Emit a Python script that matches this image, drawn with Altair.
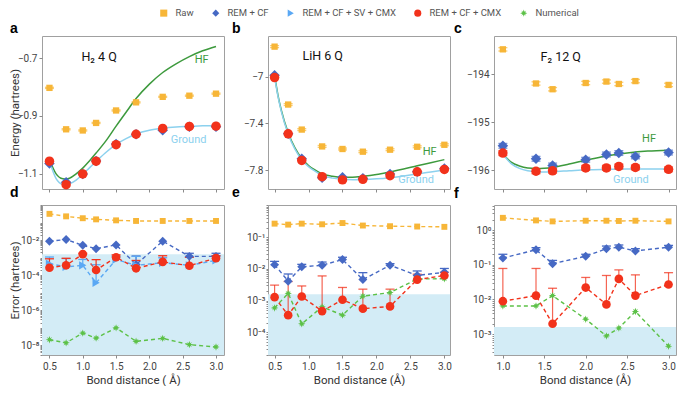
import altair as alt
import pandas as pd

# ---------------- data ----------------
SERIES = ["Raw", "REM + CF", "REM + CF + SV + CMX", "REM + CF + CMX", "Numerical"]
COLORS = ["#F7B638", "#4669C4", "#5AA8F4", "#F2321B", "#5CC147"]
STAR = ("M0,-1L0.22,-0.38L0.71,-0.71L0.38,-0.22L1,0L0.38,0.22L0.71,0.71L0.22,0.38"
        "L0,1L-0.22,0.38L-0.71,0.71L-0.38,0.22L-1,0L-0.38,-0.22L-0.71,-0.71L-0.22,-0.38Z")
SHAPES = ["square", "diamond", "triangle-right", "circle", STAR]
HF_COLOR = "#3D9A3D"
GROUND_COLOR = "#8CD1EE"
SHADE = "#D3ECF6"
CHEM_ACC = 0.0016
FONT = "Roboto"

# H2
H2_X = [0.5, 0.75, 1.0, 1.2, 1.5, 1.8, 2.2, 2.6, 3.0]
H2_E_RAW = [-0.803, -0.946, -0.950, -0.924, -0.881, -0.853, -0.834, -0.830, -0.823]
H2_E_CF = [-1.064, -1.129, -1.100, -1.055, -0.997, -0.963, -0.949, -0.937, -0.937]
H2_E_CMX = [-1.056, -1.137, -1.100, -1.056, -0.999, -0.963, -0.943, -0.936, -0.935]
H2_CX = [0.5, 0.6, 0.7, 0.75, 0.8, 0.9, 1.0, 1.1, 1.2, 1.35, 1.5, 1.65, 1.8, 2.0, 2.2, 2.4, 2.6, 2.8, 3.0]
H2_GROUND = [-1.055, -1.116, -1.136, -1.137, -1.134, -1.121, -1.101, -1.079, -1.057, -1.025,
             -0.998, -0.978, -0.962, -0.949, -0.942, -0.938, -0.936, -0.934, -0.934]
H2_HF = [-1.050, -1.100, -1.117, -1.118, -1.115, -1.100, -1.080, -1.055, -1.028, -0.985,
         -0.935, -0.887, -0.840, -0.790, -0.750, -0.720, -0.695, -0.675, -0.660]
H2_ERR_RAW = [0.32, 0.23, 0.18, 0.155, 0.136, 0.126, 0.126, 0.126, 0.126]
H2_ERR_CF = [8.8e-3, 1.1e-2, 5.1e-3, 3.3e-3, 5.4e-3, 4.1e-4, 8.8e-3, 1.2e-3, 1.2e-3]
H2_ERR_CF_HI = [None, None, None, None, None, 1.25e-3, None, 1.8e-3, 1.8e-3]
H2_ERR_SV = [4.6e-4, 3.0e-4, 3.7e-4, 3.7e-5, 7.9e-4, 3.7e-4, 5.2e-4, 3.7e-4, 7.1e-4]
H2_ERR_SV_HI = [1.1e-3, 9e-4, 8e-4, 4e-4, 1.2e-3, 1.2e-3, 1.0e-3, 1.1e-3, 1.3e-3]
H2_ERR_CMX = [2.7e-4, 3.7e-4, 1.6e-3, 2.0e-4, 1.07e-3, 2.5e-4, 5.8e-4, 3.5e-4, 9.5e-4]
H2_ERR_CMX_HI = [8.7e-4, 9.3e-4, 1.8e-3, 7.8e-4, 1.45e-3, 7e-4, 1.3e-3, 1.07e-3, 1.3e-3]
H2_ERR_NUM = [2.1e-8, 1.4e-8, 5.0e-8, 2.6e-8, 1.0e-7, 1.7e-8, 2.5e-8, 1.1e-8, 8.1e-9]

# LiH
LIH_X = [0.5, 0.7, 0.9, 1.2, 1.5, 1.8, 2.2, 2.6, 3.0]
LIH_E_RAW = [-6.744, -7.239, -7.453, -7.597, -7.619, -7.642, -7.625, -7.600, -7.583]
LIH_E_CF = [-6.989, -7.489, -7.703, -7.864, -7.861, -7.870, -7.833, -7.814, -7.786]
LIH_E_CMX = [-7.008, -7.489, -7.717, -7.856, -7.883, -7.878, -7.847, -7.814, -7.794]
LIH_CX = [0.5, 0.55, 0.6, 0.7, 0.8, 0.9, 1.0, 1.1, 1.2, 1.35, 1.5, 1.65, 1.8, 2.0, 2.2, 2.4, 2.6, 2.8, 3.0]
LIH_GROUND = [-7.00, -7.17, -7.30, -7.49, -7.62, -7.71, -7.77, -7.81, -7.845, -7.868, -7.878,
              -7.882, -7.880, -7.874, -7.864, -7.850, -7.832, -7.815, -7.798]
LIH_HF = [-6.99, -7.16, -7.29, -7.48, -7.61, -7.70, -7.76, -7.80, -7.832, -7.852, -7.860,
          -7.860, -7.853, -7.838, -7.815, -7.790, -7.762, -7.736, -7.710]
LIH_ERR_RAW = [0.265, 0.247, 0.265, 0.253, 0.277, 0.231, 0.22, 0.215, 0.21]
LIH_ERR_CF = [1.36e-2, 4.1e-3, 1.16e-2, 1.3e-2, 1.97e-2, 4.6e-3, 1.3e-2, 6.2e-3, 7.8e-3]
LIH_ERR_CF_HI = [1.72e-2, 6.9e-3, 1.39e-2, 1.64e-2, 2.32e-2, 7.6e-3, 1.46e-2, 8.6e-3, 1.03e-2]
LIH_ERR_CMX = [1.29e-3, 3.5e-4, 1.35e-3, 4.7e-4, 1.07e-3, 5.6e-4, 6.6e-4, 4.6e-3, 6.2e-3]
LIH_ERR_CMX_HI = [3.1e-3, 4.0e-3, 2.9e-3, 6.0e-3, 2.6e-3, 2.3e-3, 2.3e-3, 6.8e-3, 7.8e-3]
LIH_ERR_NUM = [5.9e-4, 1.7e-3, 1.86e-4, 6.4e-4, 3.5e-4, 1.38e-3, 1.8e-3, 4.8e-3, 4.9e-3]

# F2
F2_X = [1.0, 1.4, 1.6, 2.0, 2.25, 2.4, 2.6, 3.0]
F2_E_RAW = [-193.478, -194.19, -194.31, -194.18, -194.15, -194.20, -194.14, -194.22]
F2_E_CF = [-195.49, -195.76, -195.90, -195.78, -195.67, -195.64, -195.71, -195.63]
F2_E_CMX = [-195.64, -196.02, -196.01, -195.95, -195.95, -195.92, -195.94, -195.98]
F2_CX = [1.0, 1.1, 1.2, 1.3, 1.4, 1.5, 1.6, 1.8, 2.0, 2.25, 2.5, 2.75, 3.0]
F2_GROUND = [-195.66, -195.86, -195.96, -196.01, -196.03, -196.035, -196.03, -196.01,
             -195.99, -195.98, -195.975, -195.975, -195.975]
F2_HF = [-195.66, -195.83, -195.91, -195.95, -195.96, -195.955, -195.94, -195.87,
         -195.79, -195.70, -195.64, -195.60, -195.58]
F2_ERR_RAW = [2.24, 1.89, 1.77, 1.85, 1.85, 1.82, 1.85, 1.77]
F2_ERR_CF = [0.155, 0.27, 0.107, 0.175, 0.29, 0.32, 0.25, 0.32]
F2_ERR_CF_HI = [0.2, 0.31, 0.133, 0.2, 0.345, 0.37, 0.29, 0.36]
F2_ERR_CMX = [8.9e-3, 1.29e-2, 2.0e-3, 2.2e-2, 7.2e-3, 3.9e-2, 1.29e-2, 2.7e-2]
F2_ERR_CMX_HI = [7.8e-2, 7.8e-2, 2.1e-2, 4.3e-2, 4.9e-2, 7.1e-2, 5.1e-2, 5.9e-2]
F2_ERR_NUM = [6.5e-3, 6.5e-3, 1.29e-2, 2.7e-3, 8.9e-4, 1.5e-3, 4.5e-3, 4.5e-4]

# ---------------- layout ----------------
W = 182
H_TOP = 153
H_BOT = 150

COLOR_SCALE = alt.Scale(domain=SERIES, range=COLORS)
SHAPE_SCALE = alt.Scale(domain=SERIES, range=SHAPES)
LEGEND = alt.Legend(title=None, orient="none", legendX=117, legendY=-28,
                    direction="horizontal", columns=5, columnPadding=17,
                    symbolSize=50, symbolStrokeWidth=0, labelFontSize=9.5,
                    labelColor="#555555", labelFont=FONT, labelOffset=7)

SUP = str.maketrans("-0123456789", "⁻⁰¹²³⁴⁵⁶⁷⁸⁹")


def log_label_expr(exps):
    parts = [f"abs(log(datum.value)/LN10 - ({e})) < 0.01 ? '10{str(e).translate(SUP)}'" for e in exps]
    return " : ".join(parts) + " : ''"


def log_values(lo, hi):
    vals = []
    for n in range(-10, 3):
        for k in range(1, 10):
            v = float(f"{k}e{n}")
            if lo <= v <= hi:
                vals.append(v)
    return vals


def make_x(dom, ticks, labels, title):
    return alt.X("x:Q", scale=alt.Scale(domain=dom, nice=False, zero=False),
                 axis=alt.Axis(values=ticks, labels=labels, format=".1f", title=title,
                               titlePadding=3, labelPadding=3))


def make_y_lin(dom, vals, fmt, title):
    return alt.Y("y:Q", scale=alt.Scale(domain=dom, nice=False, zero=False),
                 axis=alt.Axis(values=vals, format=fmt, title=title, titleX=-22,
                               titleY=H_TOP / 2, titleAnchor="middle", labelPadding=2))


def make_y_log(dom, exps, title):
    return alt.Y("y:Q", scale=alt.Scale(type="log", domain=dom, nice=False),
                 axis=alt.Axis(values=log_values(dom[0], dom[1]), labelExpr=log_label_expr(exps),
                               title=title, titleX=-22, titleY=H_BOT / 2, tickSize=2,
                               labelPadding=1, labelFlush=False, labelOverlap=False))


def sdf(xs, ys, s):
    return pd.DataFrame({"x": xs, "y": ys, "series": [s] * len(xs)})


def points(df, size, X, Y):
    return alt.Chart(df).mark_point(filled=True, size=size, opacity=1, strokeWidth=0).encode(
        x=X, y=Y,
        color=alt.Color("series:N", scale=COLOR_SCALE, legend=LEGEND),
        shape=alt.Shape("series:N", scale=SHAPE_SCALE, legend=LEGEND))


def curve(xs, ys, color, X, Y):
    return alt.Chart(pd.DataFrame({"x": xs, "y": ys})).mark_line(
        color=color, strokeWidth=1.5, interpolate="monotone").encode(x=X, y=Y)


def text_layer(items, X, Y):
    layers = []
    for (x, y, t, c, fs) in items:
        layers.append(alt.Chart(pd.DataFrame({"x": [x], "y": [y], "t": [t]})).mark_text(
            align="left", baseline="middle", color=c, fontSize=fs, font=FONT).encode(
            x=X, y=Y, text="t:N"))
    return layers


def sym_errbars(xs, ys, err, color, X, Y):
    df = pd.DataFrame({"x": xs, "y": [v - err for v in ys], "hi": [v + err for v in ys]})
    rule = alt.Chart(df).mark_rule(color=color, strokeWidth=1.2).encode(x=X, y="y:Q", y2="hi:Q")
    cap1 = alt.Chart(df).mark_tick(orient="horizontal", color=color, size=9, thickness=1.3).encode(x=X, y="y:Q")
    cap2 = alt.Chart(df).mark_tick(orient="horizontal", color=color, size=9, thickness=1.3).encode(x=X, y="hi:Q")
    return [rule, cap1, cap2]


def up_errbars(xs, ys, his, color, X, Y, opacity=1.0):
    rows = [(x, y, h) for x, y, h in zip(xs, ys, his) if h is not None]
    df = pd.DataFrame({"x": [r[0] for r in rows], "y": [r[1] for r in rows], "hi": [r[2] for r in rows]})
    rule = alt.Chart(df).mark_rule(color=color, strokeWidth=1.2, opacity=opacity).encode(x=X, y="y:Q", y2="hi:Q")
    cap = alt.Chart(df).mark_tick(orient="horizontal", color=color, size=9, thickness=1.3,
                                  opacity=opacity).encode(x=X, y="hi:Q")
    return [rule, cap]


def letter_title(t, dx):
    return alt.TitleParams(text=t, anchor="start", frame="group", dx=dx, offset=0,
                           fontSize=14, fontWeight="bold", font="Liberation Sans", color="black")


def energy_panel(letter, dx, xdom, xticks, ydom, yvals, yfmt, ytitle, xs, raw, cf, cmx,
                 errs, cx, ground, hf, texts):
    X = make_x(xdom, xticks, False, None)
    Y = make_y_lin(ydom, yvals, yfmt, ytitle)
    layers = [curve(cx, hf, HF_COLOR, X, Y), curve(cx, ground, GROUND_COLOR, X, Y)]
    layers += sym_errbars(xs, raw, errs[0], COLORS[0], X, Y)
    if errs[1] > 0:
        layers += sym_errbars(xs, cf, errs[1], COLORS[1], X, Y)
    if errs[2] > 0:
        layers += sym_errbars(xs, cmx, errs[2], COLORS[3], X, Y)
    layers += [points(sdf(xs, raw, SERIES[0]), 40, X, Y),
               points(sdf(xs, cf, SERIES[1]), 110, X, Y),
               points(sdf(xs, cmx, SERIES[3]), 90, X, Y)]
    layers += text_layer(texts, X, Y)
    return alt.layer(*layers).properties(width=W, height=H_TOP, title=letter_title(letter, dx))


def dashed(xs, ys, color, X, Y):
    return alt.Chart(pd.DataFrame({"x": xs, "y": ys})).mark_line(
        color=color, strokeWidth=1.4, strokeDash=[4, 3]).encode(x=X, y=Y)


def error_panel(letter, dx, xdom, xticks, ydom, exps, ytitle, xtitle, xs, series_data):
    X = make_x(xdom, xticks, True, xtitle)
    Y = make_y_log(ydom, exps, ytitle)
    shade = alt.Chart(pd.DataFrame({"y": [CHEM_ACC]})).mark_rect(color=SHADE).encode(
        x=alt.value(0), x2=alt.value(W), y=Y, y2=alt.value(H_BOT))
    layers = [shade]
    for (s, ys, his, size, op) in series_data:
        layers.append(dashed(xs, ys, COLORS[SERIES.index(s)], X, Y))
    for (s, ys, his, size, op) in series_data:
        if his is not None:
            layers += up_errbars(xs, ys, his, COLORS[SERIES.index(s)], X, Y, op)
    for (s, ys, his, size, op) in series_data:
        layers.append(points(sdf(xs, ys, s), size, X, Y))
    return alt.layer(*layers).properties(width=W, height=H_BOT, title=letter_title(letter, dx))


TICKS_A = [0.5, 1.0, 1.5, 2.0, 2.5, 3.0]
TICKS_C = [1.0, 1.5, 2.0, 2.5, 3.0]

pa = energy_panel("a", -32, [0.388, 3.12], TICKS_A, [-1.152, -0.624], [-0.7, -0.9, -1.1], ".1f",
                  "Energy (hartrees)", H2_X, H2_E_RAW, H2_E_CF, H2_E_CMX, [0.002, 0, 0],
                  H2_CX, H2_GROUND, H2_HF,
                  [(0.98, -0.695, "H₂ 4 Q", "#111111", 12.5),
                   (2.68, -0.706, "HF", HF_COLOR, 11),
                   (2.32, -0.983, "Ground", GROUND_COLOR, 11)])
pb = energy_panel("b", -36, [0.403, 3.083], TICKS_A, [-7.961, -6.653], [-7.0, -7.4, -7.8], ".1~f",
                  None, LIH_X, LIH_E_RAW, LIH_E_CF, LIH_E_CMX, [0.008, 0, 0],
                  LIH_CX, LIH_GROUND, LIH_HF,
                  [(0.91, -6.82, "LiH  6 Q", "#111111", 12.5),
                   (2.68, -7.645, "HF", HF_COLOR, 11),
                   (2.32, -7.885, "Ground", GROUND_COLOR, 11)])
pc = energy_panel("c", -40, [0.893, 3.09], TICKS_C, [-196.39, -193.2], [-194, -195, -196], "d",
                  None, F2_X, F2_E_RAW, F2_E_CF, F2_E_CMX, [0.035, 0.05, 0.05],
                  F2_CX, F2_GROUND, F2_HF,
                  [(1.455, -193.63, "F₂ 12 Q", "#111111", 12.5),
                   (2.68, -195.34, "HF", HF_COLOR, 11),
                   (2.33, -196.2, "Ground", GROUND_COLOR, 11)])

pd_ = error_panel("d", -32, [0.388, 3.12], TICKS_A, [10 ** -8.55, 10 ** 0.01], [-2, -4, -6, -8],
                  "Error (hartrees)", "Bond distance ( Å)", H2_X,
                  [("Raw", H2_ERR_RAW, None, 35, 1.0),
                   ("REM + CF", H2_ERR_CF, H2_ERR_CF_HI, 80, 1.0),
                   ("REM + CF + SV + CMX", H2_ERR_SV, H2_ERR_SV_HI, 70, 1.0),
                   ("REM + CF + CMX", H2_ERR_CMX, H2_ERR_CMX_HI, 75, 1.0),
                   ("Numerical", H2_ERR_NUM, None, 55, 1.0)])
pe = error_panel("e", -36, [0.403, 3.083], TICKS_A, [10 ** -4.71, 10 ** 0.01], [-1, -2, -3, -4],
                 None, "Bond distance (Å)", LIH_X,
                 [("Raw", LIH_ERR_RAW, None, 35, 1.0),
                  ("REM + CF", LIH_ERR_CF, LIH_ERR_CF_HI, 80, 1.0),
                  ("Numerical", LIH_ERR_NUM, None, 55, 1.0),
                  ("REM + CF + CMX", LIH_ERR_CMX, LIH_ERR_CMX_HI, 75, 0.75)])
pf = error_panel("f", -40, [0.893, 3.09], TICKS_C, [10 ** -3.6, 10 ** 0.72], [0, -1, -2, -3],
                 None, "Bond distance (Å)", F2_X,
                 [("Raw", F2_ERR_RAW, None, 35, 1.0),
                  ("REM + CF", F2_ERR_CF, F2_ERR_CF_HI, 80, 1.0),
                  ("Numerical", F2_ERR_NUM, None, 55, 1.0),
                  ("REM + CF + CMX", F2_ERR_CMX, F2_ERR_CMX_HI, 75, 0.75)])

chart = alt.concat(pa, pb, pc, pd_, pe, pf, columns=3, bounds="flush",
                   spacing={"row": 16, "column": 44}).resolve_scale(
    x="independent", y="independent").properties(
    padding={"left": 0, "top": 0, "right": 0, "bottom": 0}
).configure_view(stroke="#a0a0a0", strokeWidth=1).configure_axis(
    domain=False, grid=False, tickColor="#8a8a8a", tickSize=3,
    labelColor="#444444", labelFont=FONT, labelFontSize=10,
    titleFont=FONT, titleFontSize=11.5, titleFontWeight="normal", titleColor="#333333"
)

chart.save("out.html", embed_options={"renderer": "svg", "actions": False})
